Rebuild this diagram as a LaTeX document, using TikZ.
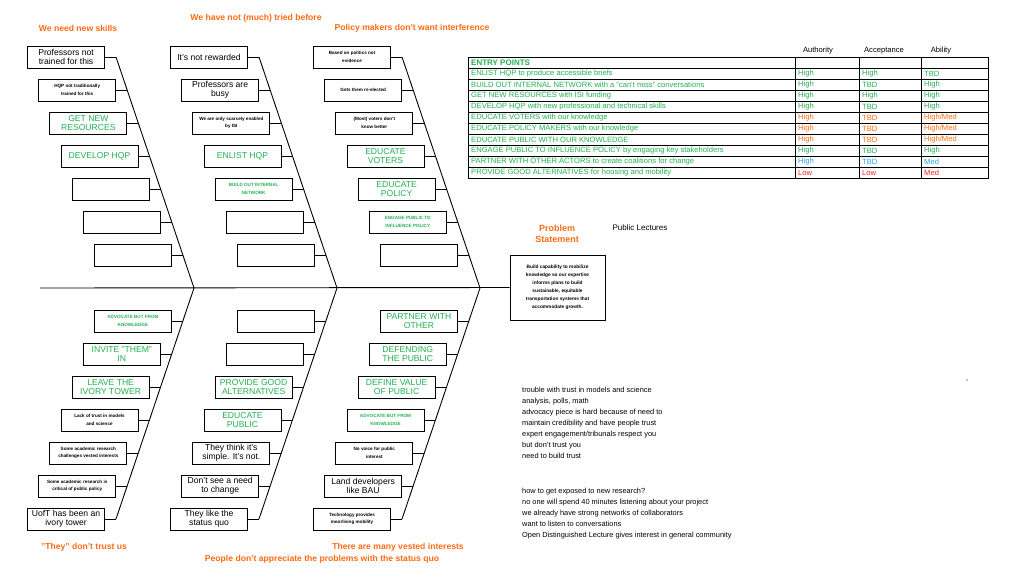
\documentclass[tikz,border=0pt]{standalone}
\usepackage{fontspec}
\setmainfont{Liberation Sans}
\begin{document}
\definecolor{gr}{HTML}{22B050}
\definecolor{orr}{HTML}{FF6A13}
\definecolor{bl}{HTML}{22A8E0}
\definecolor{rd}{HTML}{FF2020}
\begin{tikzpicture}[x=1pt,y=-1pt,
  box/.style={draw,line width=0.9pt,minimum width=77pt,minimum height=22pt,align=center,inner sep=1pt},
  kn/.style={font=\fontsize{8.6}{9}\selectfont},
  ks/.style={font=\fontsize{4.6}{7.5}\selectfont\bfseries},
  gn/.style={text=gr,font=\fontsize{8.6}{9}\selectfont},
  gs/.style={text=gr,font=\fontsize{4.6}{7.5}\selectfont\bfseries},
  em/.style={},
  ttl/.style={text=orr,font=\fontsize{8.6}{10}\selectfont\bfseries},
  bone/.style={line width=0.9pt},
  tb/.style={font=\fontsize{7.6}{8}\selectfont,anchor=west,inner sep=0pt},
  note/.style={font=\fontsize{7.4}{11}\selectfont,align=left,anchor=north west,inner sep=0pt}]
\useasboundingbox (0,0) rectangle (1024,579);
% spine and bones
\coordinate (S0) at (40,288);
\node[draw,line width=0.9pt,minimum width=95pt,minimum height=65pt,align=center,inner sep=1pt,font=\fontsize{4.8}{8}\selectfont\bfseries] (PS) at (557.5,287.5) {Build capability to mobilize\\knowledge so our expertise\\informs plans to build\\sustainable, equitable\\transportation systems that\\accommodate growth.};
\draw[bone] (S0) -- (PS.west);
\foreach \xo/\b in {116/1,259/2,402/3}{
  \coordinate (BT\b) at (\xo,57);
  \coordinate (BM\b) at (\xo+78,288);
  \coordinate (BB\b) at (\xo,519);
  \draw[bone] (BT\b) -- (BM\b) -- (BB\b);
}
% top boxes
\foreach \xo/\b/\lst in {116/1/{kn/{Professors not\\trained for this},ks/{HQP not traditionally\\trained for this},gn/{GET NEW\\RESOURCES},gn/{DEVELOP HQP},em/{},em/{},em/{}},
  259/2/{kn/{It's not rewarded},kn/{Professors are\\busy},ks/{We are only scarcely enabled\\by ISI},gn/{ENLIST HQP},gs/{BUILD OUT INTERNAL\\NETWORK},em/{},em/{}},
  402/3/{ks/{Based on politics not\\evidence},ks/{Gets them re-elected},ks/{(Most) voters don't\\know better},gn/{EDUCATE\\VOTERS},gn/{EDUCATE\\POLICY},gs/{ENGAGE PUBLIC TO\\INFLUENCE POLICY},em/{}}}{
  \foreach \s/\t [count=\k from 0] in \lst {
    \pgfmathsetmacro\bx{\xo+11.143*\k}
    \pgfmathsetmacro\yy{57+33*\k}
    \coordinate (TC\b-\k) at (\bx,\yy);
    \node[box,\s,anchor=east] (T\b-\k) at (\bx-11,\yy) {\t};
    \draw[bone] (T\b-\k.east) -- (TC\b-\k);
  }
}
% bottom boxes
\foreach \xo/\b/\lst in {116/1/{gs/{ADVOCATE BUT FROM\\KNOWLEDGE},gn/{INVITE "THEM"\\IN},gn/{LEAVE THE\\IVORY TOWER},ks/{Lack of trust in models\\and science},ks/{Some academic research\\challenges vested interests},ks/{Some academic research is\\critical of public policy},kn/{UofT has been an\\ivory tower}},
  259/2/{em/{},em/{},gn/{PROVIDE GOOD\\ALTERNATIVES},gn/{EDUCATE\\PUBLIC},kn/{They think it's\\simple. It's not.},kn/{Don't see a need\\to change},kn/{They like the\\status quo}},
  402/3/{gn/{PARTNER WITH\\OTHER},gn/{DEFENDING\\THE PUBLIC},gn/{DEFINE VALUE\\OF PUBLIC},gs/{ADVOCATE BUT FROM\\KNOWLEDGE},ks/{No voice for public\\interest},kn/{Land developers\\like BAU},ks/{Technology provides\\moorlising mobility}}}{
  \foreach \s/\t [count=\k from 0] in \lst {
    \pgfmathsetmacro\bx{\xo+78-11.143*(\k+1)}
    \pgfmathsetmacro\yy{321+33*\k}
    \coordinate (BC\b-\k) at (\bx,\yy);
    \node[box,\s,anchor=east] (B\b-\k) at (\bx-11,\yy) {\t};
    \draw[bone] (B\b-\k.east) -- (BC\b-\k);
  }
}
% titles
\node[ttl] (t1) at (78,28) {We need new skills};
\node[ttl] (t2) at (256,18) {We have not (much) tried before};
\node[ttl] (t3) at (412,28) {Policy makers don't want interference};
\node[ttl] (t4) at (84,547) {"They" don't trust us};
\node[ttl] (t5) at (398,547) {There are many vested interests};
\node[ttl] (t6) at (322,559) {People don't appreciate the problems with the status quo};
\node[ttl,align=center,font=\fontsize{9}{11}\selectfont\bfseries] (t7) at (557,234) {Problem\\Statement};
\node[font=\fontsize{8}{9}\selectfont] (pl) at (640,228) {Public Lectures};
% table
\node[font=\fontsize{7.6}{8}\selectfont] (h1) at (818,51) {Authority};
\node[font=\fontsize{7.6}{8}\selectfont] (h2) at (884,51) {Acceptance};
\node[font=\fontsize{7.6}{8}\selectfont] (h3) at (941,51) {Ability};
\draw[line width=0.8pt] (468,57) rectangle (988,178);
\foreach \xx in {795,859,921} \draw[line width=0.8pt] (\xx,57) -- (\xx,178);
\foreach \i in {1,...,10} \draw[line width=0.6pt] (468,57+11*\i) -- (988,57+11*\i);
\node[tb,text=gr,font=\fontsize{8}{8}\selectfont\bfseries] (e0) at (471,62.5) {ENTRY POINTS};
\foreach \t/\ca/\a/\cb/\bb/\cc/\c [count=\i] in {
 {ENLIST HQP to produce accessible briefs}/gr/High/gr/High/gr/TBD,
 {BUILD OUT INTERNAL NETWORK with a "can't miss" conversations}/gr/High/gr/TBD/gr/High,
 {GET NEW RESOURCES with ISI funding}/gr/High/gr/High/gr/High,
 {DEVELOP HQP with new professional and technical skills}/gr/High/gr/TBD/gr/High,
 {EDUCATE VOTERS with our knowledge}/orr/High/orr/TBD/orr/High\slash Med,
 {EDUCATE POLICY MAKERS with our knowledge}/orr/High/orr/TBD/orr/High\slash Med,
 {EDUCATE PUBLIC WITH OUR KNOWLEDGE}/orr/High/orr/TBD/orr/High\slash Med,
 {ENGAGE PUBLIC TO INFLUENCE POLICY by engaging key stakeholders}/gr/High/gr/TBD/gr/High,
 {PARTNER WITH OTHER ACTORS to create coalitions for change}/bl/High/bl/TBD/bl/Med,
 {PROVIDE GOOD ALTERNATIVES for housing and mobility}/rd/Low/rd/Low/rd/Med}{
  \node[tb,text=gr] (e\i) at (471,62.5+11*\i) {\t};
  \node[tb,text=\ca] (a\i) at (798,62.5+11*\i) {\a};
  \node[tb,text=\cb] (b\i) at (862,62.5+11*\i) {\bb};
  \node[tb,text=\cc] (c\i) at (924,62.5+11*\i) {\c};
}
% notes
\node[note] (n1) at (522,387) {trouble with trust in models and science\\analysis, polls, math\\advocacy piece is hard because of need to\\maintain credibility and have people trust\\expert engagement/tribunals respect you\\but don't trust you\\need to build trust};
\node[note] (n2) at (522,488) {how to get exposed to new research?\\no one will spend 40 minutes listening about your project\\we already have strong networks of collaborators\\want to listen to conversations\\Open Distinguished Lecture gives interest in general community};
\fill (967,380) circle (0.7);
\end{tikzpicture}
\end{document}
